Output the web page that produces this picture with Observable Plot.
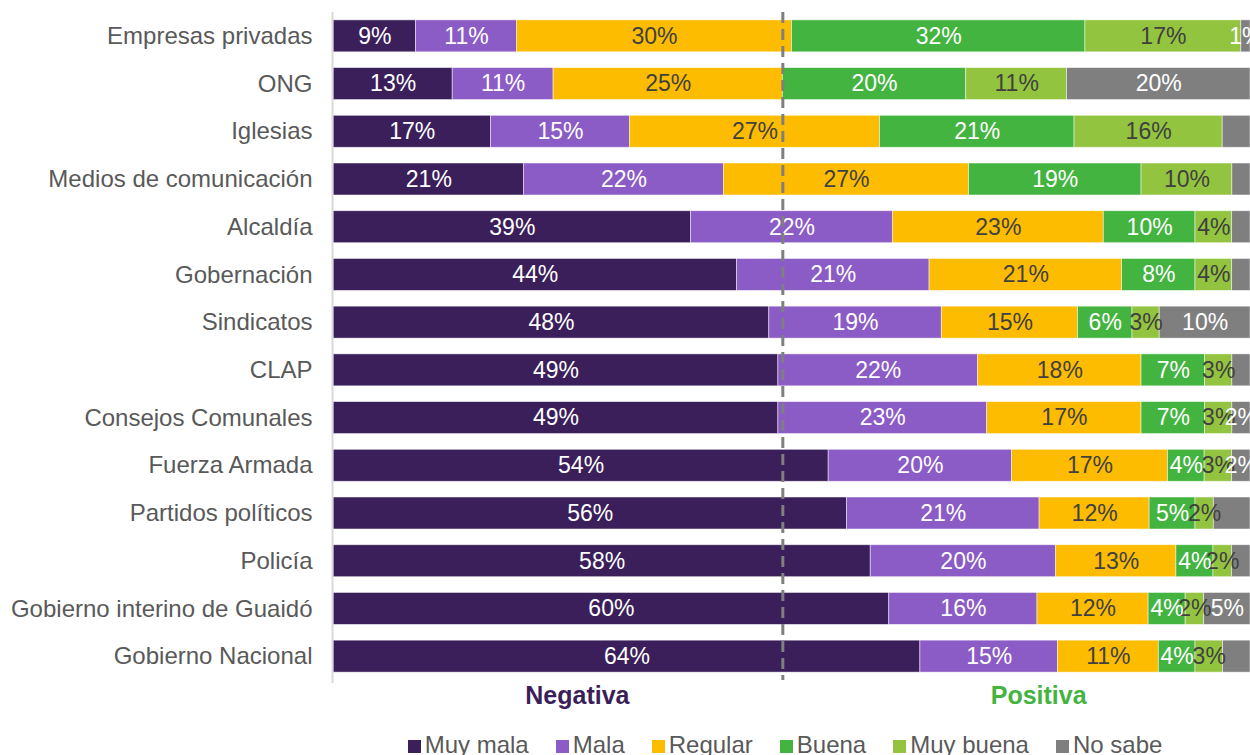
<!DOCTYPE html>
<html>
<head>
<meta charset="utf-8">
<script src="https://cdn.jsdelivr.net/npm/d3@7"></script>
<script src="https://cdn.jsdelivr.net/npm/@observablehq/plot@0.6"></script>
<style>
  body { margin: 0; background: #fff; font-family: "Liberation Sans", Arial, sans-serif; }
  #chart svg { display: block; }
  .legend { display: flex; justify-content: center; margin-left: 320px; width: 930px; padding-top: 18px;
            font-size: 24px; line-height: 23px; color: #595959; gap: 27px; }
  .legend span.item { display: inline-flex; align-items: baseline; }
  .legend i { display: inline-block; width: 13px; height: 13px; margin-right: 4px; }
</style>
</head>
<body>
<div id="chart"></div>
<script>
const categories = ["Empresas privadas", "ONG", "Iglesias", "Medios de comunicación", "Alcaldía", "Gobernación",
  "Sindicatos", "CLAP", "Consejos Comunales", "Fuerza Armada", "Partidos políticos", "Policía",
  "Gobierno interino de Guaidó", "Gobierno Nacional"];
const levels = ["Muy mala", "Mala", "Regular", "Buena", "Muy buena", "No sabe"];
const levelColors = ["#3b1f5b", "#8b5bc6", "#fdbc00", "#43b43f", "#93c43f", "#7f7f7f"];

const muyMala  = [9, 13, 17, 21, 39, 44, 48, 49, 49, 54, 56, 58, 60, 64];
const mala     = [11, 11, 15, 22, 22, 21, 19, 22, 23, 20, 21, 20, 16, 15];
const regular  = [30, 25, 27, 27, 23, 21, 15, 18, 17, 17, 12, 13, 12, 11];
const buena    = [32, 20, 21, 19, 10, 8, 6, 7, 7, 4, 5, 4, 4, 4];
const muyBuena = [17, 11, 16, 10, 4, 4, 3, 3, 3, 3, 2, 2, 2, 3];
const noSabe   = [1, 20, 3, 2, 2, 2, 10, 2, 2, 2, 4, 2, 5, 3];
// No sabe segments that carry a printed label in the original
const noSabeLabeled = [true, true, false, false, false, false, true, false, true, true, false, false, true, false];

const darkLabelLevels = new Set(["Regular", "Muy buena"]);
const sideLabels = [{x: 0.266, text: "Negativa", color: "#3b1f5b"}, {x: 0.769, text: "Positiva", color: "#43b43f"}];
const divider = 0.49;

const series = [muyMala, mala, regular, buena, muyBuena, noSabe];
const data = [];
levels.forEach((level, li) => {
  categories.forEach((cat, ci) => {
    const v = series[li][ci];
    const shown = li < 5 || noSabeLabeled[ci];
    data.push({cat, level, value: v, label: shown ? v + "%" : ""});
  });
});

const stackOpts = (extra) => Plot.stackX({x: "value", y: "cat", z: "level", offset: "normalize", ...extra});

const chart = Plot.plot({
  width: 1250,
  height: 715,
  marginLeft: 333,
  marginRight: 0,
  marginTop: 12,
  marginBottom: 35,
  style: {fontFamily: "'Liberation Sans', Arial, sans-serif", fontSize: "23px", background: "#fff"},
  x: {domain: [0, 1], axis: null},
  y: {domain: categories, paddingInner: 0.33, paddingOuter: 0.165, round: false, label: null, axis: null},
  color: {domain: levels, range: levelColors},
  marks: [
    Plot.axisY({tickSize: 0, tickPadding: 21, fontSize: 24, fill: "#595959", label: null}),
    Plot.barX(data, stackOpts({fill: "level", stroke: "#ffffff", strokeWidth: 0.8, strokeOpacity: 0.6})),
    Plot.text(data, stackOpts({text: d => darkLabelLevels.has(d.level) ? d.label : "", fill: "#404040", fontSize: 23})),
    Plot.text(data, stackOpts({text: d => darkLabelLevels.has(d.level) ? "" : d.label, fill: "#ffffff", fontSize: 23})),
    Plot.ruleX([divider], {stroke: "#7f7f7f", strokeWidth: 3, strokeDasharray: "11,6"}),
    Plot.ruleX([0], {stroke: "#d9d9d9", strokeWidth: 2, dx: -1, insetBottom: -3}),
    Plot.text(sideLabels, {x: "x", text: "text", fill: "color", frameAnchor: "bottom", dy: 15,
      lineAnchor: "middle", fontSize: 25, fontWeight: "bold"})
  ]
});
document.getElementById("chart").appendChild(chart);

const legend = document.createElement("div");
legend.className = "legend";
levels.forEach((l, i) => {
  const it = document.createElement("span");
  it.className = "item";
  it.innerHTML = `<i style="background:${levelColors[i]}"></i>${l}`;
  legend.appendChild(it);
});
document.getElementById("chart").appendChild(legend);
</script>
</body>
</html>
